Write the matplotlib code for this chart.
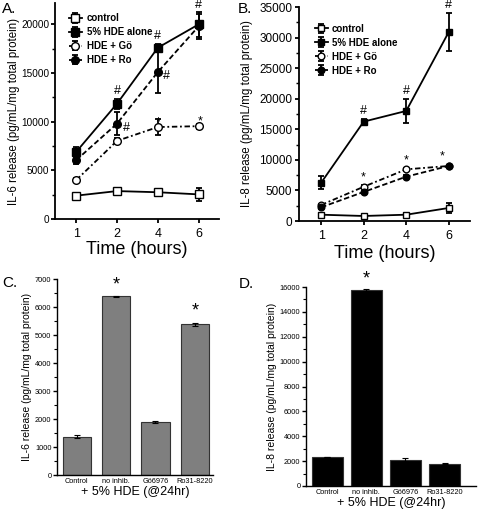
import numpy as np
import matplotlib
matplotlib.use("Agg")
import matplotlib.pyplot as plt
from matplotlib.ticker import MultipleLocator

plt.rcParams['font.family'] = ['Liberation Sans', 'DejaVu Sans']

# Tempo (horas) - painéis A e B
times = ['1', '2', '4', '6']

# IL-6 (painel A)
il6_control = [2400, 2870, 2750, 2530]
il6_control_err = [250, 300, 250, 650]
il6_hde = [6900, 11850, 17600, 20000]
il6_hde_err = [450, 500, 400, 1250]
il6_go = [4000, 8030, 9450, 9540]
il6_go_err = [200, 250, 800, 250]
il6_ro = [6050, 9800, 15100, 19800]
il6_ro_err = [350, 1200, 2150, 1300]

# IL-8 (painel B)
il8_control = [1030, 820, 1030, 2130]
il8_control_err = [300, 200, 300, 800]
il8_hde = [6250, 16250, 18000, 30900]
il8_hde_err = [1050, 450, 1900, 3100]
il8_go = [2620, 5600, 8450, 9000]
il8_go_err = [200, 250, 200, 200]
il8_ro = [2240, 4750, 7250, 9000]
il8_ro_err = [200, 200, 200, 200]

# 24h (painéis C e D)
bar_labels = ['Control', 'no inhib.', 'Gö6976', 'Ro31-8220']
il6_24h = [1370, 6380, 1900, 5380]
il6_24h_err = [60, 20, 25, 60]
il8_24h = [2330, 15750, 2100, 1800]
il8_24h_err = [30, 60, 150, 40]

series_names = ['control', '5% HDE alone', 'HDE + Gö', 'HDE + Ro']

W, H = 478, 511
fig = plt.figure(figsize=(W / 100, H / 100), dpi=100)


def add_ax(left, top, right, bottom):
    return fig.add_axes([left / W, 1 - bottom / H, (right - left) / W, (bottom - top) / H])


def style_ax(ax, lw=1.3):
    ax.spines['top'].set_visible(False)
    ax.spines['right'].set_visible(False)
    ax.spines['left'].set_linewidth(lw)
    ax.spines['bottom'].set_linewidth(lw)
    ax.tick_params(direction='out', width=lw, length=3)
    ax.tick_params(which='minor', direction='out', width=lw * 0.8, length=2)


def time_panel(ax, data, ms):
    x = np.arange(len(times))
    styles = [
        dict(marker='s', mfc='white', ls='-'),
        dict(marker='s', mfc='black', ls='-'),
        dict(marker='o', mfc='white', ls=(0, (3, 1.5, 1, 1.5))),
        dict(marker='o', mfc='black', ls=(0, (3, 1.5))),
    ]
    for (vals, errs), name, st in zip(data, series_names, styles):
        ax.errorbar(x, vals, yerr=errs, color='black', mec='black', ms=ms,
                    lw=1.3, elinewidth=1.3, capsize=2.5, capthick=1.3,
                    label=name, **st)
    ax.set_xticks(x)
    ax.set_xticklabels(times, fontsize=9)
    ax.set_xlim(-0.52, 3.5)
    return x


# ---- Painel A ----
axA = add_ax(55, 3, 219, 219)
style_ax(axA)
x = time_panel(axA, [(il6_control, il6_control_err), (il6_hde, il6_hde_err),
                     (il6_go, il6_go_err), (il6_ro, il6_ro_err)], 5.5)
axA.set_ylim(0, 22200)
axA.yaxis.set_major_locator(MultipleLocator(5000))
axA.yaxis.set_minor_locator(MultipleLocator(2500))
axA.tick_params(axis='y', labelsize=7.2, pad=1)
axA.set_ylabel('IL-6 release (pg/mL/mg total protein)', fontsize=8.3, labelpad=1)
axA.set_xlabel('Time (hours)', fontsize=13, labelpad=1)
for i in [1, 2, 3]:
    axA.text(x[i], il6_hde[i] + il6_hde_err[i] + 150, '#', ha='center', va='bottom', fontsize=9)
for i in [1, 2]:
    axA.text(x[i] + 0.22, il6_ro[i] - 400, '#', ha='center', va='center', fontsize=9)
for i in [2, 3]:
    axA.text(x[i] + (0.05 if i == 3 else 0), il6_go[i] + 500, '*', ha='center', va='center', fontsize=9)
axA.legend(loc='upper left', bbox_to_anchor=(0.055, 0.975), frameon=False, borderpad=0,
           handlelength=1.35, handletextpad=0.5, labelspacing=0.4,
           prop={'size': 7, 'weight': 'bold'})

# ---- Painel B ----
axB = add_ax(299, 7, 470, 221)
style_ax(axB)
x = time_panel(axB, [(il8_control, il8_control_err), (il8_hde, il8_hde_err),
                     (il8_go, il8_go_err), (il8_ro, il8_ro_err)], 4.8)
axB.set_ylim(0, 35000)
axB.yaxis.set_major_locator(MultipleLocator(5000))
axB.yaxis.set_minor_locator(MultipleLocator(2500))
axB.tick_params(axis='y', labelsize=8.5, pad=2)
axB.set_ylabel('IL-8 release (pg/mL/mg total protein)', fontsize=8.3, labelpad=4)
axB.set_xlabel('Time (hours)', fontsize=13, labelpad=2)
for i in [1, 2, 3]:
    axB.text(x[i], il8_hde[i] + il8_hde_err[i] + 300, '#', ha='center', va='bottom', fontsize=9)
for i in [1, 2, 3]:
    axB.text(x[i] - (0.15 if i == 3 else 0), il8_go[i] + 500, '*', ha='center', va='bottom', fontsize=9)
axB.legend(loc='upper left', bbox_to_anchor=(0.064, 0.944), frameon=False, borderpad=0,
           handlelength=1.35, handletextpad=0.4, labelspacing=0.4,
           prop={'size': 7, 'weight': 'bold'})


def bar_panel(ax, vals, errs, color, width):
    x = np.arange(len(bar_labels))
    ax.bar(x, vals, width=width, color=color, edgecolor='#333333', linewidth=0.8,
           yerr=errs, capsize=2.5, error_kw=dict(elinewidth=0.8, capthick=0.8, ecolor='black'))
    ax.set_xticks(x)
    ax.set_xticklabels(bar_labels, fontsize=5.3)
    ax.tick_params(axis='x', length=0, pad=2)
    ax.tick_params(axis='y', labelsize=5.3, pad=1)
    ax.set_xlabel('+ 5% HDE (@24hr)', fontsize=9, labelpad=1)
    return x


# ---- Painel C ----
axC = add_ax(57, 279, 213, 475)
style_ax(axC, lw=1.0)
x = bar_panel(axC, il6_24h, il6_24h_err, '#7f7f7f', 0.72)
axC.set_xlim(-0.5, 3.46)
axC.set_ylim(0, 7000)
axC.yaxis.set_major_locator(MultipleLocator(1000))
axC.yaxis.set_minor_locator(MultipleLocator(500))
axC.set_ylabel('IL-6 release (pg/mL/mg total protein)', fontsize=7.5, labelpad=2)
for i in [1, 3]:
    axC.text(x[i], il6_24h[i] + il6_24h_err[i] + 100, '*', ha='center', va='bottom', fontsize=13)

# ---- Painel D ----
axD = add_ax(306, 287, 476, 486)
style_ax(axD, lw=1.0)
x = bar_panel(axD, il8_24h, il8_24h_err, 'black', 0.79)
axD.set_xlim(-0.54, 3.8)
axD.set_ylim(0, 16000)
axD.yaxis.set_major_locator(MultipleLocator(2000))
axD.yaxis.set_minor_locator(MultipleLocator(1000))
axD.set_ylabel('IL-8 release (pg/mL/mg total protein)', fontsize=7.5, labelpad=2)
axD.text(x[1], il8_24h[1] + il8_24h_err[1] + 150, '*', ha='center', va='bottom', fontsize=13)

# Letras dos painéis
for lx, ly, s in [(2, 2, 'A.'), (238, 2, 'B.'), (2, 276, 'C.'), (239, 277, 'D.')]:
    fig.text(lx / W, 1 - ly / H, s, ha='left', va='top', fontsize=11)

fig.savefig('out.png', dpi=100)
